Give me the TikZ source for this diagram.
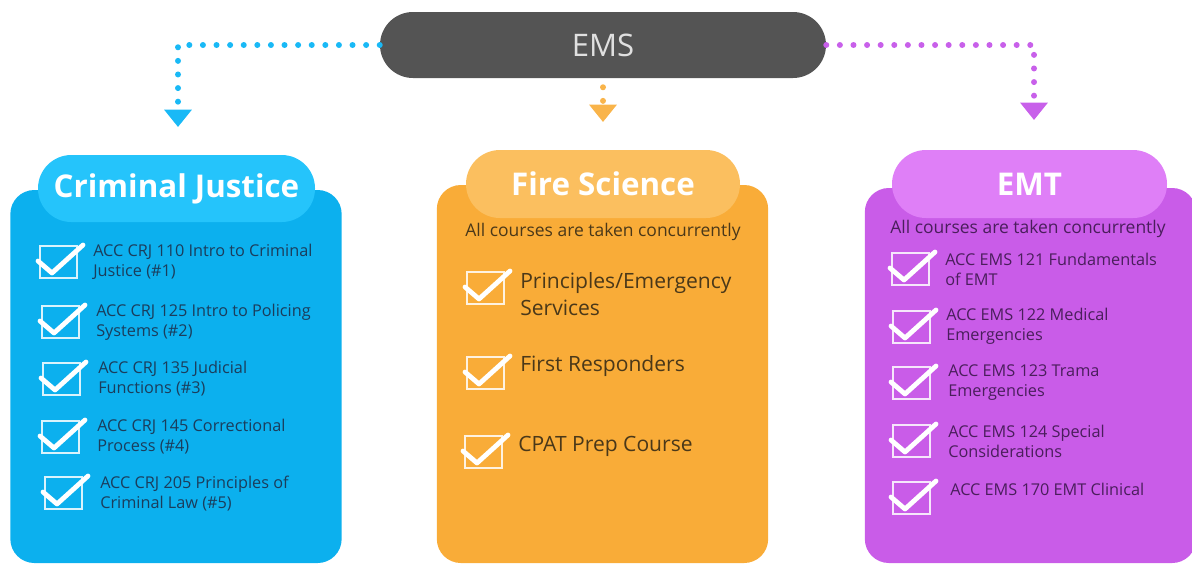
\documentclass[tikz,border=0pt]{standalone}
\usepackage{fontspec}
\setmainfont{Open Sans}
\usepackage{xcolor}
\usetikzlibrary{positioning}
\usetikzlibrary{arrows.meta}
\usetikzlibrary{calc}

\definecolor{emsgray}{HTML}{545454}
\definecolor{cjbody}{HTML}{0CB0EE}
\definecolor{cjhead}{HTML}{25C4FB}
\definecolor{cjdots}{HTML}{19B9F6}
\definecolor{cjtext}{HTML}{1B3D5C}
\definecolor{fsbody}{HTML}{F9AC38}
\definecolor{fshead}{HTML}{FBBF5F}
\definecolor{fsdots}{HTML}{F9B44A}
\definecolor{fstext}{HTML}{4A3819}
\definecolor{emtbody}{HTML}{C95CE8}
\definecolor{emthead}{HTML}{DF7FF7}
\definecolor{emtdots}{HTML}{C860EA}
\definecolor{emttext}{HTML}{4A1E5C}

% box and tick, #1 = top left corner
\newcommand{\tickbox}[1]{%
  \draw[white, opacity=0.85, line width=1.1pt] (#1) rectangle ++(37,32);
  \draw[white, line width=3.6pt, line cap=round, line join=round]
    ($(#1)+(-2,15)$) -- ++(14,12) -- ++(31,-28);
}

\begin{document}
\begin{tikzpicture}[x=0.75pt,y=-0.75pt,
    pill/.style={rounded corners=#1, inner sep=0pt},
    body/.style={rounded corners=18pt, minimum width=248.5pt, inner sep=0pt},
    title/.style={text=white, font=\fontsize{23.5}{26}\selectfont\bfseries},
    item/.style={anchor=west, align=left, inner sep=0pt, font=\fontsize{12.2}{15}\selectfont},
    bigitem/.style={anchor=west, align=left, inner sep=0pt, font=\fontsize{15.8}{20.25}\selectfont, text=fstext},
    note/.style={inner sep=0pt, font=\fontsize{13.1}{15}\selectfont},
    dotline/.style={line width=4.5pt, line cap=round, dash pattern=on 0pt off 10.2pt,
                    -{Triangle[width=20pt,length=13pt]}}]
  \useasboundingbox (0,0) rectangle (1192,565);

  % top
  \node[pill=24.75pt, fill=emsgray, minimum width=334.5pt, minimum height=49.5pt,
        text=white!88!black, font=\fontsize{23.3}{26}\selectfont] (ems) at (603,45) {EMS};
  \coordinate (cjtip) at (178,127);
  \coordinate (fstip) at (603,122);
  \coordinate (emttip) at (1034,120);
  \draw[dotline, cjdots] (ems.west) -| (cjtip);
  \draw[dotline, fsdots, shorten <=6.75pt] (ems.south) -- (fstip);
  \draw[dotline, emtdots] (ems.east) -| (emttip);

  % criminal justice
  \node[body, fill=cjbody, minimum height=279.75pt] (cjbox) at (176,376.5) {};
  \node[pill=25pt, fill=cjhead, minimum width=207.75pt, minimum height=50.25pt, title] (cjhead) at (176.5,188.5) {Criminal Justice};
  \node[item, text=cjtext] (cj1) at (93,262) {ACC CRJ 110 Intro to Criminal\\Justice (\#1)};
  \node[item, text=cjtext] (cj2) at (96,322) {ACC CRJ 125 Intro to Policing\\Systems (\#2)};
  \node[item, text=cjtext] (cj3) at (98,379) {ACC CRJ 135 Judicial\\Functions (\#3)};
  \node[item, text=cjtext] (cj4) at (97,437) {ACC CRJ 145 Correctional\\Process (\#4)};
  \node[item, text=cjtext] (cj5) at (100,494) {ACC CRJ 205 Principles of\\Criminal Law (\#5)};
  \tickbox{40,246}
  \tickbox{42,306}
  \tickbox{43,363}
  \tickbox{42,421}
  \tickbox{45,477}

  % fire science
  \node[body, fill=fsbody, minimum height=283.5pt] (fsbox) at (602.5,374) {};
  \node[pill=25.5pt, fill=fshead, minimum width=205.5pt, minimum height=51pt, title] (fshead) at (603,184) {Fire Science};
  \node[note, text=fstext] (fsnote) at (603,232) {All courses are taken concurrently};
  \node[bigitem] (fs1) at (520,294.5) {Principles/Emergency\\Services};
  \node[bigitem] (fs2) at (520,366) {First Responders};
  \node[bigitem] (fs3) at (518,446) {CPAT Prep Course};
  \tickbox{467,272}
  \tickbox{467,357}
  \tickbox{465,436}

  % emt
  \node[body, fill=emtbody, minimum height=281.25pt] (emtbox) at (1030.5,375.5) {};
  \node[pill=25.5pt, fill=emthead, minimum width=206.25pt, minimum height=51pt, title] (emthead) at (1029.5,184) {EMT};
  \node[note, text=emttext] (emtnote) at (1028,229) {All courses are taken concurrently};
  \node[item, text=emttext] (emt1) at (945,269) {ACC EMS 121 Fundamentals\\of EMT};
  \node[item, text=emttext] (emt2) at (946,326.5) {ACC EMS 122 Medical\\Emergencies};
  \node[item, text=emttext] (emt3) at (948,383) {ACC EMS 123 Trama\\Emergencies};
  \node[item, text=emttext] (emt4) at (948,441) {ACC EMS 124 Special\\Considerations};
  \node[item, text=emttext] (emt5) at (950,489) {ACC EMS 170 EMT Clinical};
  \tickbox{892,253}
  \tickbox{893,311}
  \tickbox{893,367}
  \tickbox{893,425}
  \tickbox{893,482}
\end{tikzpicture}
\end{document}
